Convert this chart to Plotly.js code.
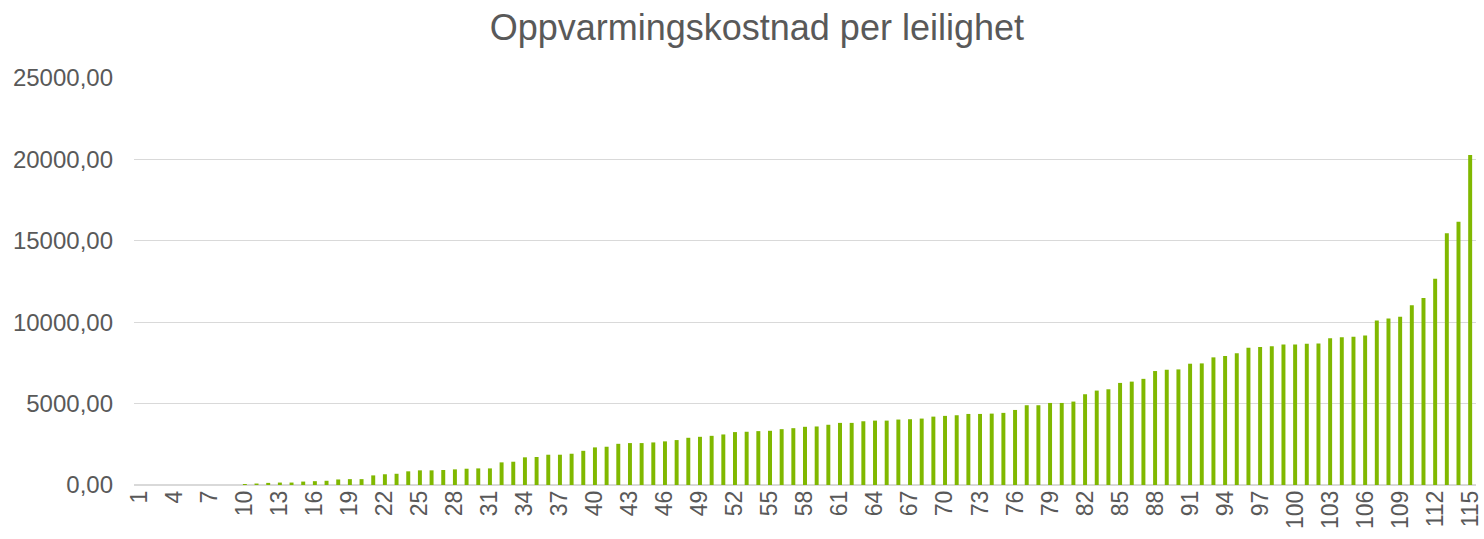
<!DOCTYPE html>
<html>
<head>
<meta charset="utf-8">
<script src="https://cdn.plot.ly/plotly-3.0.1.min.js"></script>
<style>
  body { margin: 0; background: #fff; }
  #chart { width: 1484px; height: 539px; }
</style>
</head>
<body>
<div id="chart"></div>
<script>
var leiligheter = [
  '1','2','3','4','5','6','7','8','9','10','11','12','13','14','15','16','17','18','19','20',
  '21','22','23','24','25','26','27','28','29','30','31','32','33','34','35','36','37','38','39','40',
  '41','42','43','44','45','46','47','48','49','50','51','52','53','54','55','56','57','58','59','60',
  '61','62','63','64','65','66','67','68','69','70','71','72','73','74','75','76','77','78','79','80',
  '81','82','83','84','85','86','87','88','89','90','91','92','93','94','95','96','97','98','99','100',
  '101','102','103','104','105','106','107','108','109','110','111','112','113','114','115'
];

var kostnad = [
  0, 0, 0, 0, 0, 0, 0, 0, 0, 60,
  90, 130, 150, 150, 210, 235, 260, 340, 360, 360,
  590, 660, 690, 840, 900, 900, 920, 960, 1000, 1020,
  1020, 1390, 1430, 1700, 1720, 1860, 1860, 1920, 2100, 2310,
  2350, 2530, 2575, 2575, 2615, 2680, 2760, 2900, 2960, 3020,
  3105, 3250, 3270, 3310, 3330, 3430, 3490, 3575, 3595, 3700,
  3815, 3815, 3915, 3955, 3955, 4020, 4040, 4080, 4200, 4245,
  4285, 4365, 4365, 4385, 4430, 4610, 4900, 4900, 5040, 5040,
  5125, 5575, 5800, 5880, 6270, 6350, 6520, 7000, 7080, 7100,
  7450, 7470, 7840, 7920, 8100, 8430, 8470, 8530, 8630, 8630,
  8670, 8695, 9020, 9080, 9100, 9185, 10100, 10225, 10330, 11040,
  11490, 12675, 15470, 16165, 20265
];

// only every third label is shown on the x axis
var visibleTicks = leiligheter.filter(function (d, i) { return i % 3 === 0; });

var trace = {
  x: leiligheter,
  y: kostnad,
  type: 'bar',
  marker: {color: '#80B800'},
  hoverinfo: 'x+y'
};

var layout = {
  width: 1484,
  height: 539,
  margin: {t: 78, b: 54, l: 134, r: 8},
  paper_bgcolor: '#ffffff',
  plot_bgcolor: '#ffffff',
  separators: ', ',
  font: {family: '"Liberation Sans", Arial, sans-serif', size: 23, color: '#595959'},
  title: {
    text: 'Oppvarmingskostnad per leilighet',
    font: {size: 36, color: '#595959'},
    xref: 'container', x: 0.51, xanchor: 'center',
    yref: 'container', y: 0.972, yanchor: 'top'
  },
  bargap: 0.66,
  showlegend: false,
  xaxis: {
    type: 'category',
    tickmode: 'array',
    tickvals: visibleTicks,
    ticktext: visibleTicks,
    tickangle: -90,
    showgrid: false,
    ticks: '',
    showline: false,
    automargin: false,
    tickfont: {size: 23, color: '#595959'}
  },
  yaxis: {
    range: [0, 25000],
    dtick: 5000,
    tick0: 0,
    tickformat: '.2f',
    showgrid: true,
    gridcolor: '#D9D9D9',
    gridwidth: 1.3,
    zeroline: true,
    zerolinecolor: '#D9D9D9',
    zerolinewidth: 1.3,
    ticks: '',
    ticklabelstandoff: 20,
    automargin: false,
    tickfont: {size: 24, color: '#595959'}
  }
};

var config = {displayModeBar: false, staticPlot: true};

Plotly.newPlot('chart', [trace], layout, config);
</script>
</body>
</html>
